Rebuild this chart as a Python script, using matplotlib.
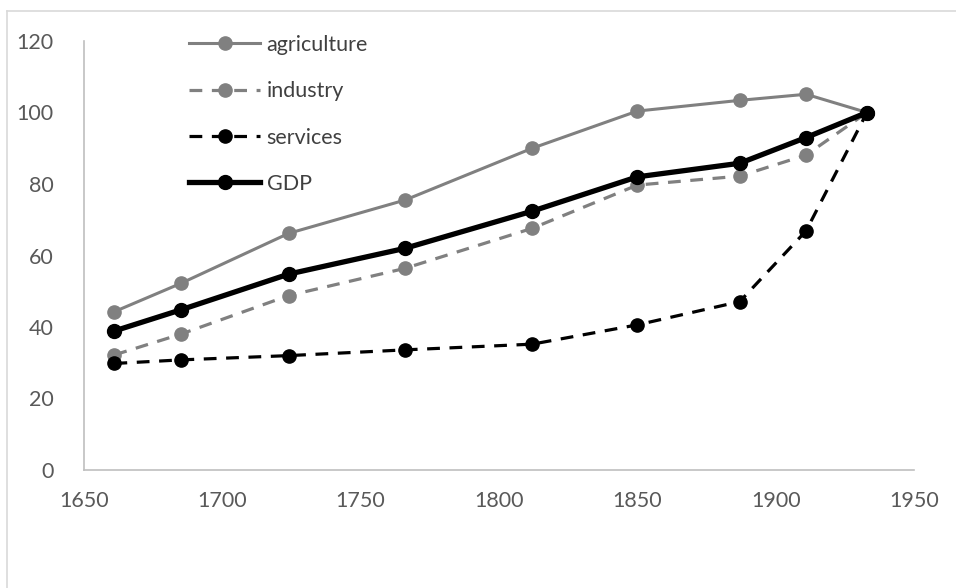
import matplotlib.pyplot as plt
from matplotlib.lines import Line2D

years = [1661, 1685, 1724, 1766, 1812, 1850, 1887, 1911, 1933]
agriculture = [44.3, 52.2, 66.2, 75.5, 90.0, 100.4, 103.4, 105.1, 100]
industry = [32.2, 38.0, 48.8, 56.4, 67.6, 79.7, 82.2, 88.1, 100]
services = [29.8, 30.8, 32.0, 33.6, 35.2, 40.6, 47.1, 66.9, 100]
gdp = [38.9, 44.8, 54.8, 62.0, 72.4, 82.0, 85.8, 93.0, 100]

x_ticks = [1650, 1700, 1750, 1800, 1850, 1900, 1950]
y_ticks = [0, 20, 40, 60, 80, 100, 120]

plt.rcParams['font.family'] = ['Lato', 'DejaVu Sans']

W, H = 956, 588
fig = plt.figure(figsize=(W / 100, H / 100), dpi=100)
ax = fig.add_axes([84 / W, 1 - 470 / H, 830 / W, 429 / H])

grey = '#808080'
ax.plot(years, agriculture, color=grey, lw=2.2, marker='o', ms=9.5, label='agriculture')
ax.plot(years, industry, color=grey, lw=2.3, marker='o', ms=9.5, dashes=(4, 3), label='industry')
ax.plot(years, services, color='black', lw=2.3, marker='o', ms=9.5, dashes=(4, 3), label='services')
ax.plot(years, gdp, color='black', lw=3.8, marker='o', ms=10, label='GDP')

ax.set_xlim(1650, 1950)
ax.set_ylim(0, 120)
ax.set_xticks(x_ticks)
ax.set_yticks(y_ticks)
ax.tick_params(length=0, labelsize=15.5, colors='#595959', pad=15)
ax.tick_params(axis='y', pad=22)
for s in ['top', 'right']:
    ax.spines[s].set_visible(False)
for s in ['left', 'bottom']:
    ax.spines[s].set_color('#bfbfbf')
    ax.spines[s].set_linewidth(1.2)

ax.legend(loc='upper left', bbox_to_anchor=(189 / W, 1 - 35 / H),
          bbox_transform=fig.transFigure, frameon=False, fontsize=15.5,
          handlelength=3.3, handletextpad=0.3, labelspacing=1.22,
          borderpad=0, borderaxespad=0, labelcolor='#404040')

# outer chart border
fig.add_artist(Line2D([7 / W, 7 / W], [0, 1 - 11 / H], color='#d9d9d9', lw=1.2,
                      transform=fig.transFigure))
fig.add_artist(Line2D([7 / W, 1], [1 - 11 / H, 1 - 11 / H], color='#d9d9d9', lw=1.2,
                      transform=fig.transFigure))

fig.savefig('out.png', dpi=100)
